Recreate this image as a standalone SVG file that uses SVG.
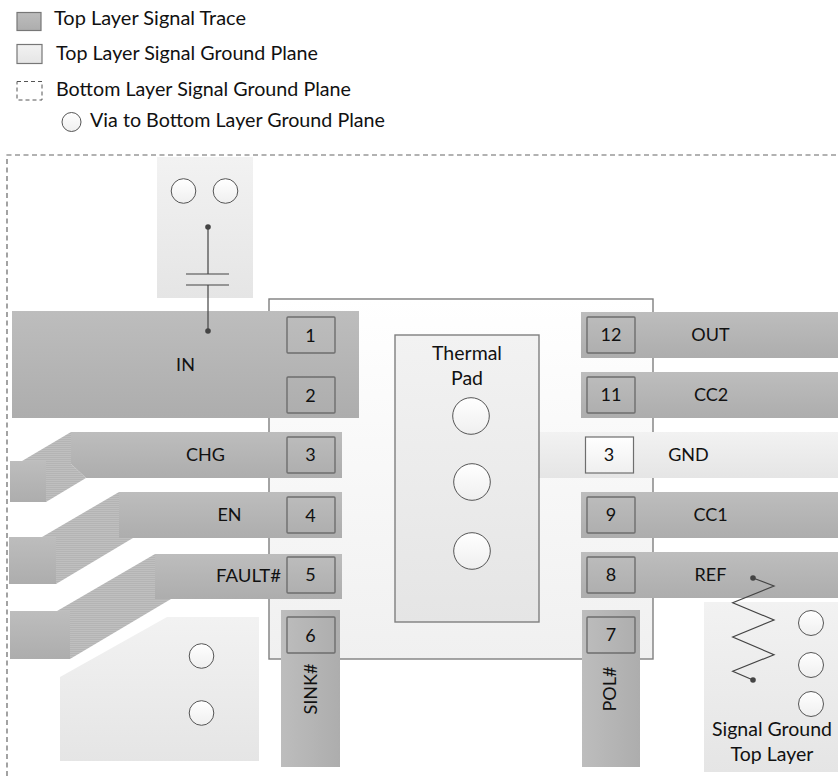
<svg xmlns="http://www.w3.org/2000/svg" width="838" height="776" viewBox="0 0 838 776">
<style>
text{font-family:"Lato","Open Sans","Liberation Sans",sans-serif;font-size:18px;fill:#111;text-anchor:middle}
.l{text-anchor:start;font-size:18.5px}
.b{font-size:19.5px}
.trace{fill:url(#tr)}
.hatch{fill:url(#hp)}
.plane{fill:url(#pl)}
.pad{fill:none;stroke:#6e6e6e;stroke-width:1.4}
.padw{fill:url(#vi);stroke:#6e6e6e;stroke-width:1.2}
.via{fill:url(#vi);stroke:#555;stroke-width:1}
.wire{fill:none;stroke:#444;stroke-width:1.200}
.dot{fill:#444}
</style>
<defs>
<linearGradient id="tr" x1="0" y1="0" x2="0" y2="1"><stop offset="0" stop-color="#bdbdbd"/><stop offset="1" stop-color="#adadad"/></linearGradient>
<linearGradient id="trh" x1="0" y1="0" x2="1" y2="0"><stop offset="0" stop-color="#bdbdbd"/><stop offset="1" stop-color="#adadad"/></linearGradient>
<linearGradient id="pl" x1="0" y1="0" x2="0" y2="1"><stop offset="0" stop-color="#f2f2f2"/><stop offset="1" stop-color="#e5e5e5"/></linearGradient>
<linearGradient id="vi" x1="0" y1="0" x2="0" y2="1"><stop offset="0" stop-color="#ffffff"/><stop offset="1" stop-color="#efefef"/></linearGradient>
<linearGradient id="ch" x1="0" y1="0" x2="0" y2="1"><stop offset="0" stop-color="#ffffff"/><stop offset="1" stop-color="#f0f0f0"/></linearGradient>
<pattern id="hp" width="4" height="2" patternUnits="userSpaceOnUse"><rect width="4" height="2" fill="#b4b4b4"/><rect width="4" height="1" fill="#bfbfbf"/></pattern>
</defs>

<g id="legend">
<rect x="17" y="12.500" width="24" height="18" fill="url(#tr)" stroke="#777" stroke-width="1.200"/>
<rect x="17" y="44.500" width="25" height="19" fill="url(#pl)" stroke="#777" stroke-width="1.200"/>
<rect x="17" y="81.500" width="25" height="18.500" fill="none" stroke="#555" stroke-width="1" stroke-dasharray="4 3"/>
<circle class="via" cx="71.500" cy="122" r="9.500"/>
<text class="l" x="54" y="25" textLength="192" lengthAdjust="spacingAndGlyphs">Top Layer Signal Trace</text>
<text class="l" x="56" y="60" textLength="262" lengthAdjust="spacingAndGlyphs">Top Layer Signal Ground Plane</text>
<text class="l" x="56" y="96" textLength="295" lengthAdjust="spacingAndGlyphs">Bottom Layer Signal Ground Plane</text>
<text class="l" x="90" y="127" textLength="295" lengthAdjust="spacingAndGlyphs">Via to Bottom Layer Ground Plane</text>
</g>

<g id="bottom-plane"><path d="M7 776V155H838" fill="none" stroke="#666" stroke-width="1.200" stroke-dasharray="5 3.500"/></g>

<g id="chip"><rect x="269" y="299" width="384" height="360" fill="url(#ch)" stroke="#7f7f7f" stroke-width="1.400"/></g>

<g id="cap-plane">
<rect class="plane" x="157" y="157" width="96" height="141"/>
<circle class="via" cx="183.500" cy="191" r="12.300"/>
<circle class="via" cx="225.500" cy="191" r="12.300"/>
</g>

<g id="net-in">
<rect class="trace" x="12" y="311" width="347" height="107"/>
<text x="185.500" y="371">IN</text>
</g>

<g id="net-chg">
<rect class="trace" x="10" y="461" width="36" height="41"/>
<path class="hatch" d="M22 461L71 432V464L86 478L46 502V461Z"/>
<path class="trace" d="M71 432H342V478H86L71 464Z"/>
<text x="205.500" y="461">CHG</text>
</g>
<g id="net-en">
<rect class="trace" x="9" y="537" width="47" height="47"/>
<path class="hatch" d="M42 537L119 492V538H133L56 584V537Z"/>
<rect class="trace" x="119" y="492" width="223" height="46"/>
<text x="229.500" y="521">EN</text>
</g>
<g id="net-fault">
<rect class="trace" x="10" y="611" width="60" height="48"/>
<path class="hatch" d="M57 611L155 554V599H171L70 659V611Z"/>
<rect class="trace" x="155" y="554" width="187" height="45"/>
<text x="248.500" y="582" textLength="65" lengthAdjust="spacingAndGlyphs">FAULT#</text>
</g>

<g id="left-plane">
<path class="plane" d="M60 677L167 617H259V761H60Z"/>
<circle class="via" cx="201.500" cy="656" r="12.300"/>
<circle class="via" cx="201.500" cy="713" r="12.300"/>
</g>

<g id="net-sink">
<rect x="281" y="610" width="59" height="157" fill="url(#trh)"/>
<text transform="translate(316.500 689) rotate(-90)">SINK#</text>
</g>
<g id="net-pol">
<rect x="582" y="610" width="58" height="157" fill="url(#trh)"/>
<text transform="translate(615.500 689) rotate(-90)">POL#</text>
</g>

<g id="net-out"><rect class="trace" x="581" y="312" width="257" height="46"/><text x="710.500" y="341">OUT</text></g>
<g id="net-cc2"><rect class="trace" x="581" y="372" width="257" height="46"/><text x="711" y="401">CC2</text></g>
<g id="net-gnd"><rect class="plane" x="538" y="432" width="300" height="46"/><text x="688.500" y="461">GND</text></g>
<g id="net-cc1"><rect class="trace" x="581" y="492" width="257" height="46"/><text x="710.500" y="521">CC1</text></g>
<g id="net-ref"><rect class="trace" x="581" y="552" width="257" height="46"/><text x="710.500" y="581">REF</text></g>

<g id="thermal-pad">
<rect class="plane" x="395" y="335" width="144" height="287" stroke="#7f7f7f" stroke-width="1.400"/>
<text class="b" x="467" y="360">Thermal</text>
<text class="b" x="467" y="385">Pad</text>
<circle class="via" cx="471" cy="416" r="18.300"/>
<circle class="via" cx="472" cy="482" r="18.300"/>
<circle class="via" cx="472" cy="551" r="18.300"/>
</g>

<g id="ground-plane">
<rect class="plane" x="704" y="602" width="134" height="170"/>
<circle class="via" cx="811" cy="623" r="12.500"/>
<circle class="via" cx="811" cy="665" r="12.500"/>
<circle class="via" cx="811" cy="704" r="12.500"/>
<text class="b" x="772" y="736">Signal Ground</text>
<text class="b" x="772" y="761">Top Layer</text>
</g>

<g id="pads">
<rect class="pad" x="287" y="317" width="48" height="36" rx="1"/><text x="310.500" y="341.500">1</text>
<rect class="pad" x="287" y="377" width="48" height="36" rx="1"/><text x="310.500" y="401.500">2</text>
<rect class="pad" x="287" y="437" width="48" height="36" rx="1"/><text x="310.500" y="461">3</text>
<rect class="pad" x="287" y="497" width="48" height="36" rx="1"/><text x="310.500" y="521.500">4</text>
<rect class="pad" x="287" y="557" width="48" height="36" rx="1"/><text x="310.500" y="581">5</text>
<rect class="pad" x="287" y="617" width="48" height="36" rx="1"/><text x="310.500" y="641.500">6</text>
<rect class="pad" x="587" y="317" width="48" height="36" rx="1"/><text x="611" y="341">12</text>
<rect class="pad" x="587" y="377" width="48" height="36" rx="1"/><text x="611" y="401">11</text>
<rect class="padw" x="585.500" y="437" width="48" height="36"/><text x="609" y="461">3</text>
<rect class="pad" x="587" y="497" width="48" height="36" rx="1"/><text x="611" y="521">9</text>
<rect class="pad" x="587" y="557" width="48" height="36" rx="1"/><text x="611" y="581">8</text>
<rect class="pad" x="587" y="617" width="48" height="36" rx="1"/><text x="611" y="641">7</text>
</g>

<g id="connectors">
<path class="wire" d="M208 227V274M186 274H229M186 285H229M208 285V331"/>
<circle class="dot" cx="208" cy="227" r="2.800"/>
<circle class="dot" cx="208" cy="331" r="2.800"/>
<path class="wire" d="M753 578L774 586L732.700 602.700L774 620L732.700 637L774 654.700L732.700 671.300L753 680"/>
<circle class="dot" cx="753" cy="578" r="2.800"/>
<circle class="dot" cx="753" cy="680" r="2.800"/>
</g>
</svg>
